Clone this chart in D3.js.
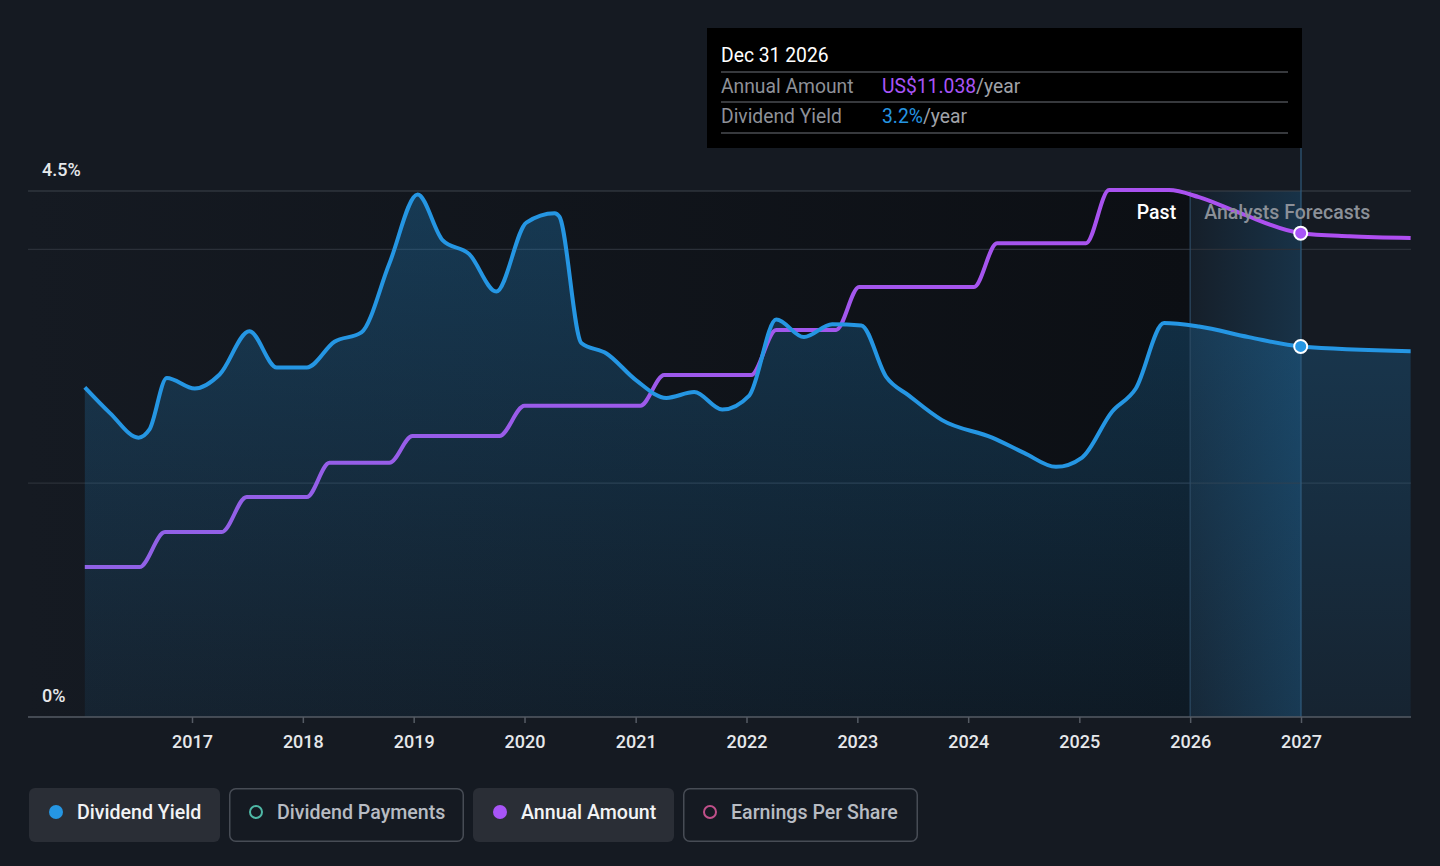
<!DOCTYPE html>
<html>
<head>
<meta charset="utf-8">
<script src="https://cdn.jsdelivr.net/npm/d3@7"></script>
<style>
  html, body { margin: 0; padding: 0; background: #151a22; }
  svg { display: block; font-family: Roboto, "Noto Sans", sans-serif; }
</style>
</head>
<body>
<svg id="chart" width="1440" height="866"></svg>
<script>
// dividend yield, %
const yieldDates = ["2016-01-14","2016-04-06","2016-07-09","2016-08-14","2016-10-10","2017-01-10","2017-04-02","2017-07-09","2017-10-07","2018-01-14","2018-04-15","2018-07-13","2018-10-13","2019-01-14","2019-04-06","2019-07-03","2019-09-30","2020-01-07","2020-04-09","2020-04-25","2020-07-06","2020-09-27","2021-01-03","2021-04-12","2021-07-13","2021-10-13","2022-01-10","2022-04-09","2022-07-09","2022-10-10","2023-01-14","2023-04-06","2023-06-20","2023-10-07","2024-03-20","2024-07-03","2024-10-16","2025-01-10","2025-04-18","2025-07-06","2025-10-07","2026-01-30","2026-07-13","2026-12-31","2027-12-28"];
const yieldValues = [2.82,2.60,2.39,2.46,2.90,2.81,2.93,3.30,2.99,2.99,3.21,3.29,3.88,4.47,4.08,3.96,3.64,4.23,4.31,4.28,3.20,3.11,2.88,2.73,2.78,2.63,2.75,3.40,3.25,3.36,3.35,2.91,2.75,2.54,2.39,2.26,2.14,2.22,2.61,2.81,3.37,3.34,3.25,3.17,3.13];

// annual dividend amount, US$/year
const amountDates = ["2016-01-14","2016-07-12","2016-10-04","2017-04-09","2017-06-30","2018-01-14","2018-03-30","2018-10-13","2018-12-28","2019-10-10","2020-01-01","2021-01-16","2021-04-05","2022-01-16","2022-04-09","2022-10-23","2023-01-07","2024-01-20","2024-04-05","2025-01-23","2025-04-09","2025-10-23","2026-01-30","2026-06-13","2026-12-31","2027-06-10","2027-12-28"];
const amountValues = [3.42,3.42,4.22,4.22,5.02,5.02,5.80,5.80,6.41,6.41,7.10,7.10,7.80,7.80,8.83,8.83,9.81,9.81,10.81,10.81,12.02,12.02,11.86,11.50,11.038,10.97,10.93];

const yearTicks = [2017,2018,2019,2020,2021,2022,2023,2024,2025,2026,2027];
const yieldTicks = [0, 4.5];
const gridYields = [2, 4, 4.5];
const legendItems = ["Dividend Yield","Dividend Payments","Annual Amount","Earnings Per Share"];

const parse = d3.timeParse("%Y-%m-%d");
const yieldData = yieldDates.map((d, i) => ({ date: parse(d), value: yieldValues[i] }));
const amountData = amountDates.map((d, i) => ({ date: parse(d), value: amountValues[i] }));

const svg = d3.select("#chart");
const plotLeft = 28, plotRight = 1411, plotTop = 191, plotBottom = 717;

const x = d3.scaleTime()
  .domain([new Date(2017, 0, 1), new Date(2027, 0, 1)])
  .range([192, 1301]);
const y = d3.scaleLinear().domain([0, 4.5]).range([plotBottom, plotTop]);
const yAmt = d3.scaleLinear().domain([0, 12]).range([plotBottom, plotTop]);

const defs = svg.append("defs");
const pastGrad = defs.append("linearGradient").attr("id", "pastGrad");
pastGrad.append("stop").attr("offset", "0%").attr("stop-color", "#151a22");
pastGrad.append("stop").attr("offset", "100%").attr("stop-color", "#0c0f14");

const fcGrad = defs.append("linearGradient").attr("id", "fcGrad");
fcGrad.append("stop").attr("offset", "0%").attr("stop-color", "#2394df").attr("stop-opacity", 0.04);
fcGrad.append("stop").attr("offset", "100%").attr("stop-color", "#2394df").attr("stop-opacity", 0.2);

const areaGrad = defs.append("linearGradient").attr("id", "areaGrad")
  .attr("x1", 0).attr("x2", 0).attr("y1", 0).attr("y2", 1);
areaGrad.append("stop").attr("offset", "0%").attr("stop-color", "#2394df").attr("stop-opacity", 0.28);
areaGrad.append("stop").attr("offset", "100%").attr("stop-color", "#2394df").attr("stop-opacity", 0.08);

const purpGrad = defs.append("linearGradient").attr("id", "purpGrad")
  .attr("gradientUnits", "userSpaceOnUse").attr("x1", 85).attr("x2", 1411);
purpGrad.append("stop").attr("offset", "0%").attr("stop-color", "#8f62e6");
purpGrad.append("stop").attr("offset", "100%").attr("stop-color", "#b04ef2");

// past / forecast shading
const forecastStart = new Date(2026, 0, 1), forecastEnd = new Date(2027, 0, 1);
svg.append("rect")
  .attr("x", plotLeft).attr("y", plotTop)
  .attr("width", x(forecastStart) - plotLeft).attr("height", plotBottom - plotTop)
  .attr("fill", "url(#pastGrad)");
svg.append("rect")
  .attr("x", x(forecastStart)).attr("y", plotTop)
  .attr("width", x(forecastEnd) - x(forecastStart)).attr("height", plotBottom - plotTop)
  .attr("fill", "url(#fcGrad)");

// grid
svg.append("g").selectAll("line").data(gridYields).join("line")
  .attr("x1", plotLeft).attr("x2", plotRight)
  .attr("y1", d => y(d)).attr("y2", d => y(d))
  .attr("stroke", d => d === 4.5 ? "#3d424b" : "#2b3039")
  .attr("stroke-width", 1.2);

// area and lines
const curve = d3.curveMonotoneX;
svg.append("path").datum(yieldData)
  .attr("fill", "url(#areaGrad)")
  .attr("d", d3.area().curve(curve).x(d => x(d.date)).y0(plotBottom).y1(d => y(d.value)));

svg.append("line")
  .attr("x1", x(forecastStart)).attr("x2", x(forecastStart))
  .attr("y1", plotTop).attr("y2", plotBottom)
  .attr("stroke", "#2c4a63").attr("stroke-width", 1.2);
svg.append("line")
  .attr("x1", x(forecastEnd)).attr("x2", x(forecastEnd))
  .attr("y1", 148).attr("y2", plotBottom)
  .attr("stroke", "#2f5b7d").attr("stroke-width", 1.2);

svg.append("path").datum(amountData)
  .attr("fill", "none").attr("stroke", "url(#purpGrad)").attr("stroke-width", 4)
  .attr("stroke-linejoin", "round")
  .attr("d", d3.line().curve(curve).x(d => x(d.date)).y(d => yAmt(d.value)));

svg.append("path").datum(yieldData)
  .attr("fill", "none").attr("stroke", "#2596e3").attr("stroke-width", 4)
  .attr("stroke-linejoin", "round")
  .attr("d", d3.line().curve(curve).x(d => x(d.date)).y(d => y(d.value)));

// Past / Analysts Forecasts labels
svg.append("text").attr("x", x(forecastStart) - 14).attr("y", 219)
  .attr("text-anchor", "end").attr("fill", "#ffffff")
  .attr("font-size", 19.5).attr("font-weight", 500).text("Past");
svg.append("text").attr("x", x(forecastStart) + 14).attr("y", 219)
  .attr("fill", "#8b9098").attr("font-size", 19.5).attr("font-weight", 500)
  .text("Analysts Forecasts");

// markers at the hovered date
const hoverDate = parse("2026-12-31");
const amtHover = amountData.find(d => +d.date === +hoverDate);
const yldHover = yieldData.find(d => +d.date === +hoverDate);
svg.append("circle").attr("cx", x(hoverDate)).attr("cy", yAmt(amtHover.value)).attr("r", 6.5)
  .attr("fill", "#a855f7").attr("stroke", "#fff").attr("stroke-width", 2);
svg.append("circle").attr("cx", x(hoverDate)).attr("cy", y(yldHover.value)).attr("r", 6.5)
  .attr("fill", "#2596e3").attr("stroke", "#fff").attr("stroke-width", 2);

// x axis
const xAxis = svg.append("g").attr("transform", `translate(0,${plotBottom})`)
  .call(d3.axisBottom(x).tickValues(yearTicks.map(yr => new Date(yr, 0, 1)))
    .tickFormat(d3.timeFormat("%Y")).tickSize(6).tickSizeOuter(0));
xAxis.select(".domain").remove();
xAxis.insert("line", ":first-child").attr("x1", plotLeft).attr("x2", plotRight)
  .attr("stroke", "#555b64").attr("stroke-width", 1.5);
xAxis.selectAll(".tick line").attr("stroke", "#555b64").attr("stroke-width", 1.5);
xAxis.selectAll(".tick text").attr("fill", "#e6e8eb").attr("font-size", 18)
  .attr("font-weight", 500).attr("font-family", "Roboto, sans-serif").attr("dy", "1.2em");

// y labels
svg.append("g").selectAll("text").data(yieldTicks).join("text")
  .attr("x", 42).attr("y", d => y(d) - 15)
  .attr("fill", "#e6e8eb").attr("font-size", 18).attr("font-weight", 500)
  .text(d => d + "%");

// tooltip
const tip = svg.append("g");
tip.append("rect").attr("x", 707).attr("y", 28).attr("width", 595).attr("height", 120).attr("fill", "#000");
tip.append("text").attr("x", 721).attr("y", 61.5).attr("fill", "#fff").attr("font-size", 19.3)
  .text(d3.timeFormat("%b %d %Y")(hoverDate));
[72, 102, 133].forEach(yy => tip.append("line").attr("x1", 721).attr("x2", 1288)
  .attr("y1", yy).attr("y2", yy).attr("stroke", "#4a4d52").attr("stroke-width", 1.5));
tip.append("text").attr("x", 721).attr("y", 92.5).attr("font-size", 19.3).attr("fill", "#8e9198").text("Annual Amount");
const v1 = tip.append("text").attr("x", 882).attr("y", 92.5).attr("font-size", 19.3);
v1.append("tspan").attr("fill", "#a855f7").text("US$" + amtHover.value.toFixed(3));
v1.append("tspan").attr("fill", "#a0a3a9").text("/year");
tip.append("text").attr("x", 721).attr("y", 122.5).attr("font-size", 19.3).attr("fill", "#8e9198").text("Dividend Yield");
const v2 = tip.append("text").attr("x", 882).attr("y", 122.5).attr("font-size", 19.3);
v2.append("tspan").attr("fill", "#2596e3").text(yldHover.value.toFixed(1) + "%");
v2.append("tspan").attr("fill", "#a0a3a9").text("/year");

// legend
const legendBoxes = [
  { x: 29, w: 191, on: true, color: "#2596e3" },
  { x: 229, w: 235, on: false, color: "#4fb8a6" },
  { x: 473, w: 201, on: true, color: "#a855f7" },
  { x: 683, w: 235, on: false, color: "#c0508a" }
];
const lg = svg.append("g").selectAll("g").data(legendItems).join("g")
  .attr("transform", (d, i) => `translate(${legendBoxes[i].x},788)`);
lg.append("rect")
  .attr("x", (d, i) => legendBoxes[i].on ? 0 : 0.75).attr("y", (d, i) => legendBoxes[i].on ? 0 : 0.75)
  .attr("width", (d, i) => legendBoxes[i].w - (legendBoxes[i].on ? 0 : 1.5))
  .attr("height", (d, i) => legendBoxes[i].on ? 54 : 52.5)
  .attr("rx", 6)
  .attr("fill", (d, i) => legendBoxes[i].on ? "#2a2e36" : "none")
  .attr("stroke", (d, i) => legendBoxes[i].on ? "none" : "#474c55")
  .attr("stroke-width", 1.5);
lg.append("circle").attr("cx", 27).attr("cy", 24)
  .attr("r", (d, i) => legendBoxes[i].on ? 7 : 6)
  .attr("fill", (d, i) => legendBoxes[i].on ? legendBoxes[i].color : "none")
  .attr("stroke", (d, i) => legendBoxes[i].on ? "none" : legendBoxes[i].color)
  .attr("stroke-width", 2);
lg.append("text").attr("x", 48).attr("y", 31)
  .attr("font-size", 19.6).attr("font-weight", 500)
  .attr("fill", (d, i) => legendBoxes[i].on ? "#f2f3f5" : "#b8bcc3")
  .text(d => d);
</script>
</body>
</html>
